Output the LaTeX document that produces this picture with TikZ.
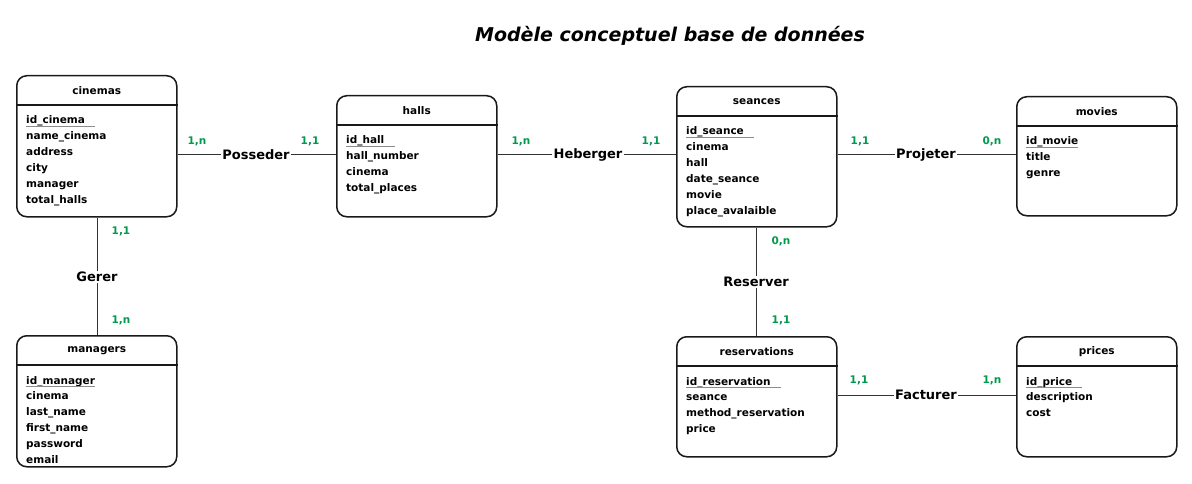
\documentclass[tikz,border=0pt]{standalone}
\usepackage{fontspec}
\setmainfont{DejaVu Sans}
\definecolor{cardgreen}{HTML}{00994D}
\tikzset{
 ent/.style={draw=black!90, line width=1.5pt, rounded corners=10pt, minimum width=160pt, anchor=north west, inner sep=0pt},
 hdr/.style={line width=1.3pt, draw=black!90},
 ttl/.style={font=\fontsize{10.5}{12}\selectfont\bfseries, inner sep=0pt},
 attr/.style={font=\fontsize{10.5}{12}\selectfont\bfseries, anchor=base west, inner sep=0pt},
 ul/.style={draw=black!45, line width=0.6pt},
 rel/.style={font=\fontsize{13}{15}\selectfont\bfseries, inner sep=1pt},
 card/.style={font=\fontsize{10.5}{12}\selectfont\bfseries, text=cardgreen, inner sep=0pt},
 conn/.style={draw=black!80, line width=1pt},
 ttlmain/.style={font=\fontsize{19}{22}\selectfont\bfseries\itshape, inner sep=0pt},
}
% #1 name, #2 x, #3 y, #4 height, #5 title, #6 id, #7 underline extension, #8 other attributes
\newcommand\entbox[8]{%
 \node[ent, minimum height=#4pt] (#1) at (#2,#3) {};
 \draw[hdr] ([yshift=-30pt]#1.north west) -- ([yshift=-30pt]#1.north east);
 \node[ttl] (#1-t) at ([yshift=-16pt]#1.north) {#5};
 \node[attr] (#1-id) at ([xshift=10pt,yshift=-49pt]#1.north west) {#6};
 \draw[ul] ([yshift=-2pt]#1-id.base west) -- ([xshift=#7pt,yshift=-2pt]#1-id.base east);
 \foreach \a [count=\i from 1] in {#8} {
   \node[attr] (#1-a\i) at ([xshift=10pt,yshift={-49pt-15.9pt*\i}]#1.north west) {\a};
 }
}
\begin{document}
\begin{tikzpicture}[x=1pt,y=-1pt]
\useasboundingbox (0,0) rectangle (1192,484);
\node[ttlmain] (title) at (670,36) {Modèle conceptuel base de données};

\entbox{cinemas}{16}{75}{141}{cinemas}{id\_cinema}{10}{name\_cinema,address,city,manager,total\_halls}
\entbox{halls}{336}{95}{121}{halls}{id\_hall}{10}{hall\_number,cinema,total\_places}
\entbox{seances}{676}{86}{140}{seances}{id\_seance}{10}{cinema,hall,date\_seance,movie,place\_avalaible}
\entbox{movies}{1016}{96}{119}{movies}{id\_movie}{0}{title,genre}
\entbox{managers}{16}{335}{131}{managers}{id\_manager}{0}{cinema,last\_name,first\_name,password,email}
\entbox{reservations}{676}{336}{120}{reservations}{id\_reservation}{10}{seance,method\_reservation,price}
\entbox{prices}{1016}{336}{120}{prices}{id\_price}{10}{description,cost}

\node[rel] (posseder) at (256,155) {Posseder};
\node[rel] (heberger) at (588,155) {Heberger};
\node[rel] (projeter) at (926,155) {Projeter};
\node[rel] (gerer) at (97,277) {Gerer};
\node[rel] (reserver) at (756,282) {Reserver};
\node[rel] (facturer) at (926,395) {Facturer};

\draw[conn] (cinemas.east |- posseder) -- (posseder) -- (halls.west |- posseder);
\draw[conn] (halls.east |- heberger) -- (heberger) -- (seances.west |- heberger);
\draw[conn] (seances.east |- projeter) -- (projeter) -- (movies.west |- projeter);
\draw[conn] (gerer |- cinemas.south) -- (gerer) -- (gerer |- managers.north);
\draw[conn] (reserver |- seances.south) -- (reserver) -- (reserver |- reservations.north);
\draw[conn] (reservations.east |- facturer) -- (facturer) -- (prices.west |- facturer);

\node[card] (c1) at (197,141) {1,n};
\node[card] (c2) at (310,141) {1,1};
\node[card] (c3) at (521,141) {1,n};
\node[card] (c4) at (651,141) {1,1};
\node[card] (c5) at (860,141) {1,1};
\node[card] (c6) at (992,141) {0,n};
\node[card] (c7) at (121,231) {1,1};
\node[card] (c8) at (121,320) {1,n};
\node[card] (c9) at (781,241) {0,n};
\node[card] (c10) at (781,320) {1,1};
\node[card] (c11) at (859,380) {1,1};
\node[card] (c12) at (992,380) {1,n};
\end{tikzpicture}
\end{document}
